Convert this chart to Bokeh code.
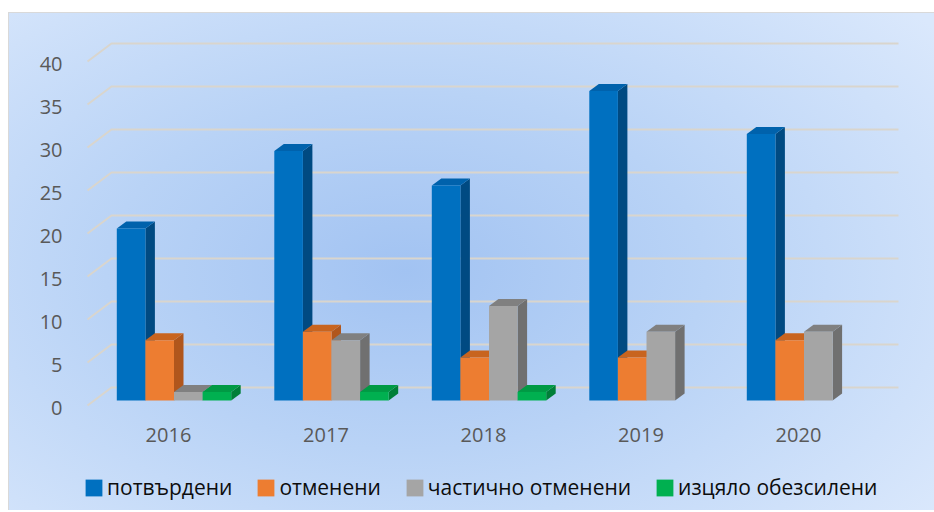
from bokeh.plotting import figure
from bokeh.models import (ColumnDataSource, Range1d, LinearAxis, FixedTicker,
                          Legend, LegendItem)
from bokeh.core.properties import value
from bokeh.embed import file_html
from bokeh.resources import INLINE

# ---- data ----
years = ["2016", "2017", "2018", "2019", "2020"]
series_names = ["потвърдени", "отменени", "частично отменени", "изцяло обезсилени"]
potvardeni = [20, 29, 25, 36, 31]
otmeneni = [7, 8, 5, 5, 7]
chastichno = [1, 7, 11, 8, 8]
izcyalo = [1, 1, 1, 0, 0]
y_ticks = [0, 5, 10, 15, 20, 25, 30, 35, 40]

series_values = [potvardeni, otmeneni, chastichno, izcyalo]
front_colors = ["#0070c0", "#ed7d31", "#a5a5a5", "#00b050"]
side_colors = ["#004a82", "#b0561c", "#707070", "#007f38"]
top_colors = ["#0062ac", "#c8641f", "#808080", "#009a44"]

# ---- geometry (pixels -> data units) ----
PX_X = 157.5   # pixels per category step
PX_Y = 8.6     # pixels per value unit
MB_L, MB_T = 72, 18
FRAME_W = 854
FRAME_H = 480
x0_px = 93.5           # first group centre from frame left
y0_px = 370            # zero line from frame top
xs_, xe_ = -x0_px / PX_X, (FRAME_W - x0_px) / PX_X
ys_, ye_ = -(FRAME_H - y0_px) / PX_Y, y0_px / PX_Y

bw = 28.6 / PX_X
ddx = 9.5 / PX_X
ddy = 7.0 / PX_Y

p = figure(frame_width=FRAME_W, frame_height=FRAME_H,
           x_range=Range1d(xs_, xe_), y_range=Range1d(ys_, ye_),
           output_backend="svg", toolbar_location=None,
           x_axis_location=None, y_axis_location=None,
           min_border_left=MB_L, min_border_right=0, min_border_top=MB_T,
           min_border_bottom=0)
p.margin = (12, 0, 0, 8)
p.border_fill_color = None
p.background_fill_color = None
p.outline_line_color = None
p.grid.visible = False
p.styles = {
    "background-image": "radial-gradient(ellipse 72% 80% at 43% 52%, #a2c3f2 0%, #b9d3f6 45%, #dae8fc 100%)",
    "box-shadow": "inset 1px 1px 0 #d9d9d9",
}

# y axis on a shifted range so labels sit on the front wall
p.extra_y_ranges = {"ylab": Range1d(ys_ + 0.814, ye_ + 0.814)}
yaxis = LinearAxis(y_range_name="ylab", ticker=FixedTicker(ticks=y_ticks))
yaxis.axis_line_color = None
yaxis.major_tick_line_color = None
yaxis.minor_tick_line_color = None
yaxis.major_label_text_font = "Open Sans"
yaxis.major_label_text_font_size = "20px"
yaxis.major_label_text_color = "#595959"
yaxis.major_label_standoff = 12
p.add_layout(yaxis, "left")

# category labels under the groups
lab_src = ColumnDataSource(dict(x=[i - 0.035 for i in range(len(years))],
                                y=[-34 / PX_Y] * len(years), text=years))
p.text(x="x", y="y", text="text", source=lab_src, text_font=value("Open Sans"),
       text_font_size="20px", text_color="#595959", text_align="center",
       text_baseline="middle")

# 3D wall gridlines
gx, gy = [], []
x_front = (87 - 173.5) / PX_X
x_back = (111 - 173.5) / PX_X
x_end = (898 - 173.5) / PX_X
for v in y_ticks:
    gx.append([x_front, x_back, x_end])
    gy.append([v - 5 / PX_Y, v + 13 / PX_Y, v + 13 / PX_Y])
p.multi_line(gx, gy, line_color="#d9d5cd", line_width=2)

# bars
legend_items = []
for s, vals in enumerate(series_values):
    L, R, T, sx, sy, tx, ty = [], [], [], [], [], [], []
    for i, v in enumerate(vals):
        if v == 0:
            continue
        left = i + (s - 2) * bw
        right = left + bw
        L.append(left); R.append(right); T.append(v)
        sx.append([right, right + ddx, right + ddx, right])
        sy.append([0, ddy, v + ddy, v])
        tx.append([left, left + ddx, right + ddx, right])
        ty.append([v, v + ddy, v + ddy, v])
    p.patches(sx, sy, fill_color=side_colors[s], line_color=None)
    p.patches(tx, ty, fill_color=top_colors[s], line_color=None)
    src = ColumnDataSource(dict(left=L, right=R, top=T, bottom=[0] * len(T)))
    r = p.quad(left="left", right="right", top="top", bottom="bottom", source=src,
               fill_color=front_colors[s], line_color=None)
    legend_items.append(LegendItem(label=series_names[s], renderers=[r]))

legend = Legend(items=legend_items, orientation="horizontal", glyph_width=21, glyph_height=21,
                label_standoff=3, spacing=23, padding=0, margin=0,
                background_fill_alpha=0, border_line_color=None,
                label_text_font="Open Sans", label_text_font_size="21px",
                label_text_color="#0d0d0d", location=(3, 9))
p.add_layout(legend, "center")

open("out.html", "w").write(file_html(p, INLINE))
